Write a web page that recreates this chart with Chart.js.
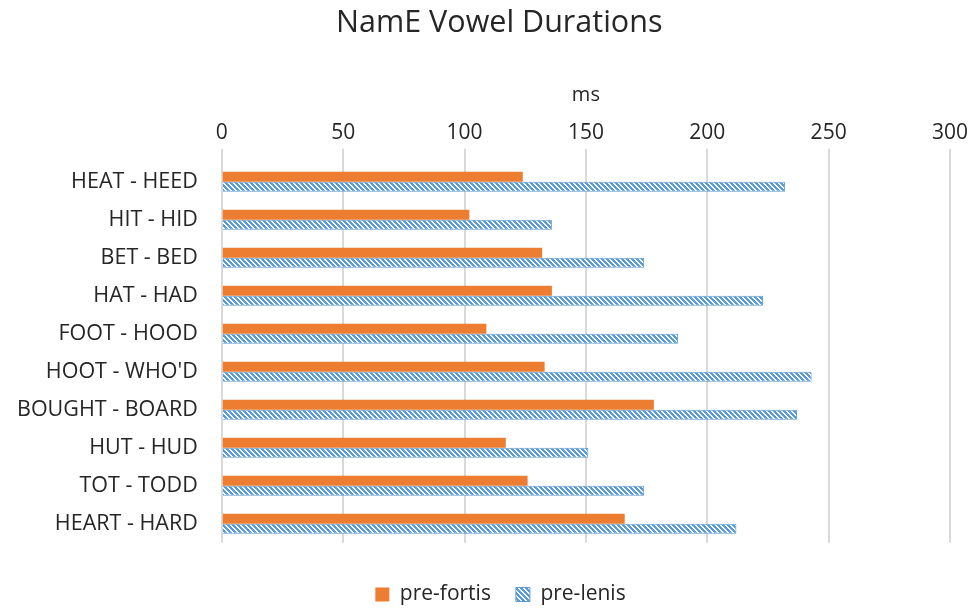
<!DOCTYPE html>
<html>
<head>
<meta charset="utf-8">
<script src="https://cdn.jsdelivr.net/npm/chart.js@4"></script>
<style>
  html, body { margin: 0; padding: 0; background: #fff; }
  #wrap { width: 974px; height: 608px; }
</style>
</head>
<body>
<div id="wrap"><canvas id="myChart" width="974" height="608"></canvas></div>
<script>
// chart data
const categories = [
  "HEAT - HEED", "HIT - HID", "BET - BED", "HAT - HAD", "FOOT - HOOD",
  "HOOT - WHO'D", "BOUGHT - BOARD", "HUT - HUD", "TOT - TODD", "HEART - HARD"
];
const preFortis = [124, 102, 132, 136, 109, 133, 178, 117, 126, 166];
const preLenis = [232, 136, 174, 223, 188, 243, 237, 151, 174, 212];
const xTicks = [0, 50, 100, 150, 200, 250, 300];

const orange = "#ED7D31";
const blue = "#5B9BD5";

// diagonal hatch (blue with white "\" stripes) for the pre-lenis bars
const makeHatch = () => {
  const size = 5;
  const c = document.createElement("canvas");
  c.width = size;
  c.height = size;
  const ctx = c.getContext("2d");
  for (let y = 0; y < size; y++) {
    for (let x = 0; x < size; x++) {
      const d = (((x - y) % size) + size) % size;
      ctx.fillStyle = d < 2 ? "#ffffff" : blue;
      ctx.fillRect(x, y, 1, 1);
    }
  }
  return ctx.createPattern(c, "repeat");
};

// the legend in the original sits a little right of the canvas centre
const legendShift = {
  id: "legendShift",
  afterLayout(chart) {
    chart.legend.left += 25;
    chart.legend.right += 25;
  },
};

const font = "'Open Sans', 'DejaVu Sans', sans-serif";
const textColor = "#262626";

new Chart("myChart", {
  type: "bar",
  data: {
    labels: categories,
    datasets: [
      {
        label: "pre-fortis",
        data: preFortis,
        backgroundColor: orange,
        borderWidth: 0,
      },
      {
        label: "pre-lenis",
        data: preLenis,
        backgroundColor: makeHatch(),
        borderColor: blue,
        borderWidth: 1,
      },
    ],
  },
  plugins: [legendShift],
  options: {
    indexAxis: "y",
    responsive: false,
    animation: false,
    layout: { padding: { left: 1, right: 24, top: 0, bottom: -7 } },
    datasets: {
      bar: { barPercentage: 1, categoryPercentage: 0.53 },
    },
    plugins: {
      title: {
        display: true,
        // leading spaces nudge the centred title to the right, as in the original
        text: "      NamE Vowel Durations",
        color: textColor,
        font: { family: font, size: 30.5, weight: "normal" },
        padding: { top: 5, bottom: 42 },
      },
      legend: {
        position: "bottom",
        title: {
          display: true,
          text: " ",
          font: { size: 1 },
          padding: { top: 15, bottom: 0 },
        },
        labels: {
          color: textColor,
          font: { family: font, size: 21 },
          boxWidth: 14,
          boxHeight: 14,
          padding: 25,
        },
      },
      tooltip: { enabled: false },
    },
    scales: {
      x: {
        position: "top",
        min: 0,
        max: 300,
        afterBuildTicks: (axis) => {
          axis.ticks = xTicks.map((v) => ({ value: v }));
        },
        title: {
          display: true,
          text: "ms",
          color: textColor,
          font: { family: font, size: 20 },
          padding: { top: 0, bottom: 10 },
        },
        ticks: {
          color: textColor,
          font: { family: font, size: 21 },
          padding: 3,
        },
        grid: { color: "#d9d9d9", lineWidth: 2, tickLength: 14 },
        border: { display: false },
      },
      y: {
        ticks: {
          color: textColor,
          font: { family: font, size: 21.5 },
          padding: 16,
        },
        grid: { display: false },
        border: { display: false },
      },
    },
  },
});
</script>
</body>
</html>
